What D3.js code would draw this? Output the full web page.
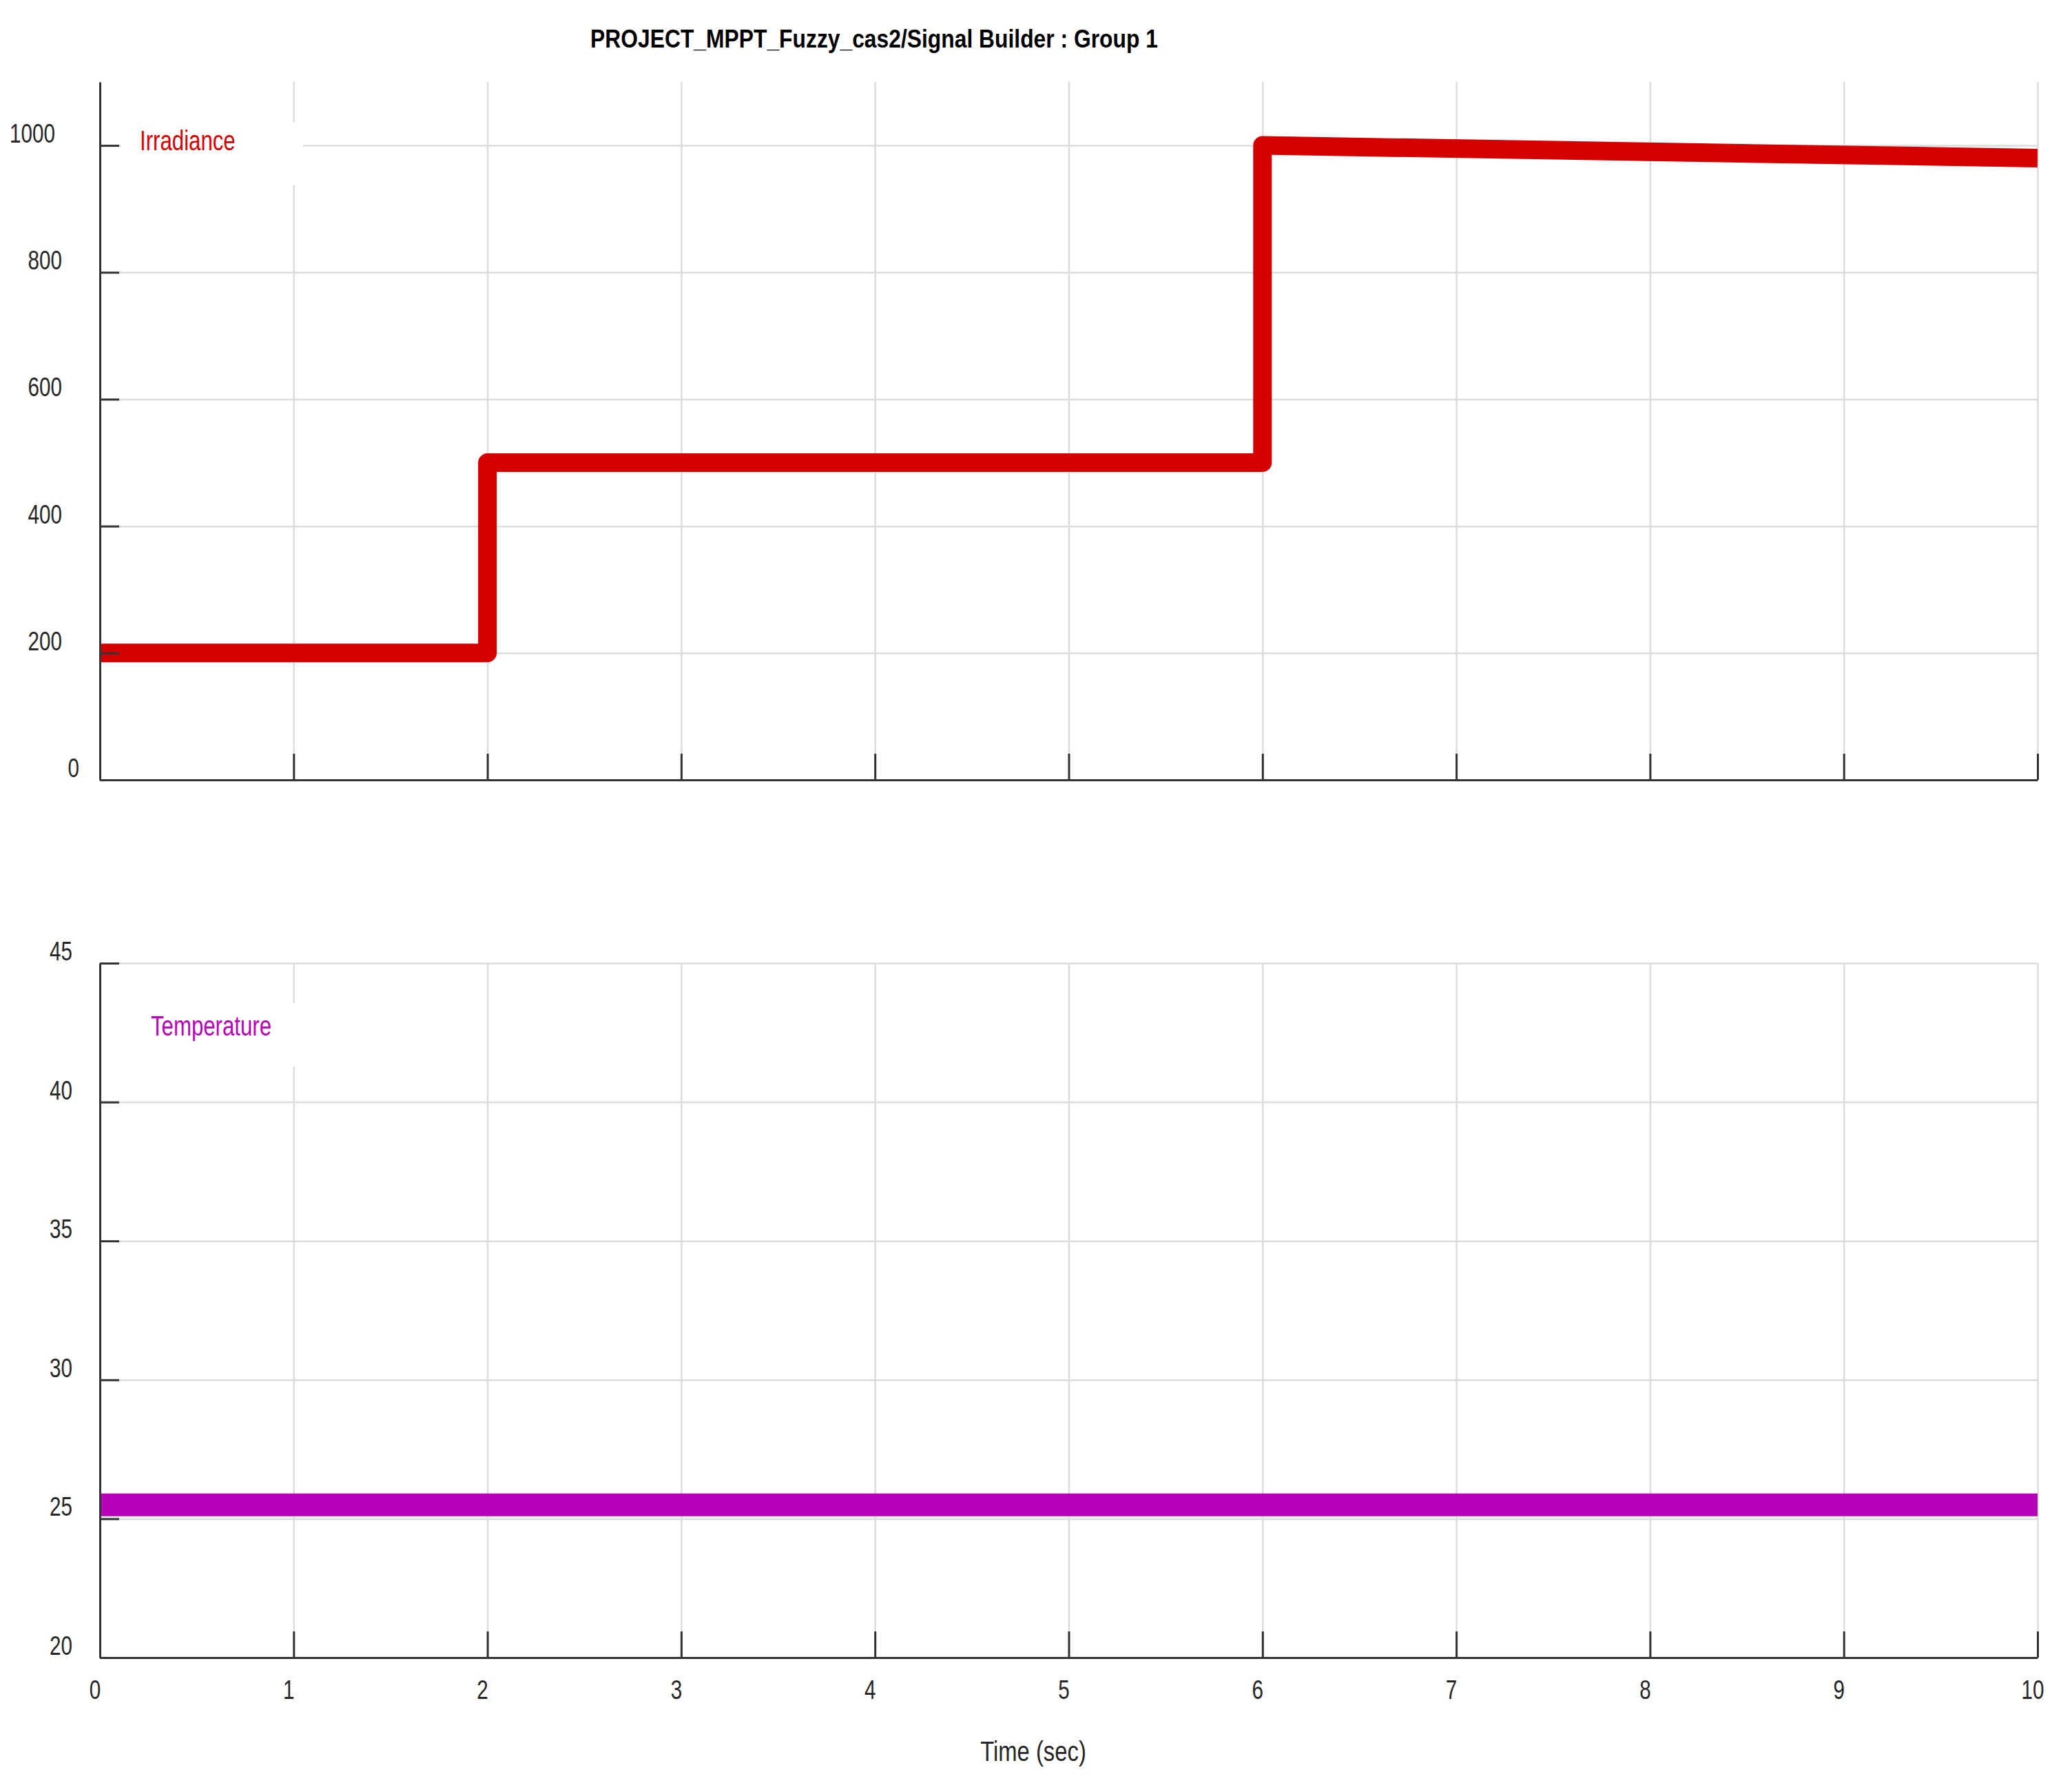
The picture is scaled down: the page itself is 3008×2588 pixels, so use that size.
<!DOCTYPE html>
<html>
<head>
<meta charset="utf-8">
<script src="https://cdn.jsdelivr.net/npm/d3@7/dist/d3.min.js"></script>
<style>
  body { margin: 0; background: #fff; }
  text { font-family: "Liberation Sans", Arial, sans-serif; }
</style>
</head>
<body>
<svg id="chart"></svg>
<script>
// data
const timeTicks = [0, 1, 2, 3, 4, 5, 6, 7, 8, 9, 10];
const irrTime = [0, 2, 2, 6, 6, 10];
const irrValue = [200, 200, 500, 500, 1000, 980];
const tempTime = [0, 10];
const tempValue = [25.5, 25.5];
const irrTicks = [0, 200, 400, 600, 800, 1000];
const tempTicks = [20, 25, 30, 35, 40, 45];

const W = 3008, H = 2588;
const svg = d3.select('#chart').attr('width', W).attr('height', H);

const left = 145, right = 2958;
const x = d3.scaleLinear().domain([0, 10]).range([left, right]);

const gridColor = '#dcdcdc';
const axisColor = '#333';
const narrow = 0.78; // no narrow font installed, squeeze instead

// text placed with a horizontal squeeze
function label(sel, tx, ty, sx) {
  return sel.append('text')
    .attr('transform', `translate(${tx}, ${ty}) scale(${sx || narrow}, 1)`);
}

const panels = [
  { name: 'Irradiance', color: '#d40000', width: 27, top: 119, bottom: 1132,
    domain: [0, 1100], ticks: irrTicks, tx: irrTime, ty: irrValue, textDx: 58, textDy: 99 },
  { name: 'Temperature', color: '#b800b8', width: 33, top: 1398, bottom: 2406,
    domain: [20, 45], ticks: tempTicks, tx: tempTime, ty: tempValue, textDx: 74, textDy: 105 }
];

// label right edge by string length (matlab puts them a bit oddly)
const labelEnd = { 1: -30, 2: -40, 3: -55, 4: -65 };

panels.forEach((p, pi) => {
  const y = d3.scaleLinear().domain(p.domain).range([p.bottom, p.top]);
  const g = svg.append('g');

  // grid
  g.append('g')
    .attr('transform', `translate(0, ${p.bottom})`)
    .call(d3.axisBottom(x).tickValues(timeTicks).tickSize(-(p.bottom - p.top)).tickFormat(''))
    .call(s => s.select('.domain').remove())
    .call(s => s.selectAll('line').attr('stroke', gridColor).attr('stroke-width', 2.5));

  g.append('g')
    .attr('transform', `translate(${left}, 0)`)
    .call(d3.axisLeft(y).tickValues(p.ticks).tickSize(-(right - left)).tickFormat(''))
    .call(s => s.select('.domain').remove())
    .call(s => s.selectAll('line').attr('stroke', gridColor).attr('stroke-width', 2.5));

  // white box behind the signal name
  g.append('rect')
    .attr('x', left + 30).attr('y', p.top + 58)
    .attr('width', 265).attr('height', 92)
    .attr('fill', '#fff');

  label(g, left + p.textDx, p.top + p.textDy)
    .attr('fill', p.color)
    .attr('font-size', 40)
    .text(p.name);

  // signal line
  const clipId = 'clip' + pi;
  svg.append('clipPath').attr('id', clipId)
    .append('rect')
    .attr('x', left).attr('y', p.top - 30)
    .attr('width', right - left).attr('height', p.bottom - p.top + 60);

  const pts = p.tx.map((t, i) => [t, p.ty[i]]);
  g.append('path')
    .datum(pts)
    .attr('clip-path', `url(#${clipId})`)
    .attr('fill', 'none')
    .attr('stroke', p.color)
    .attr('stroke-width', p.width)
    .attr('stroke-linejoin', 'round')
    .attr('stroke-linecap', 'butt')
    .attr('d', d3.line().x(d => x(d[0])).y(d => y(d[1])));

  // axes, ticks pointing in
  g.append('g')
    .attr('transform', `translate(${left}, 0)`)
    .call(d3.axisLeft(y).tickValues(p.ticks).tickSize(-28).tickSizeOuter(0).tickFormat(''))
    .call(s => s.selectAll('line, path').attr('stroke', axisColor).attr('stroke-width', 3));

  g.append('g')
    .attr('transform', `translate(0, ${p.bottom})`)
    .call(d3.axisBottom(x).tickValues(timeTicks).tickSize(-38).tickSizeOuter(0).tickFormat(''))
    .call(s => s.selectAll('line, path').attr('stroke', axisColor).attr('stroke-width', 3));

  // y tick labels
  p.ticks.forEach(d => {
    label(g, left + labelEnd[String(d).length], y(d) - 4)
      .attr('text-anchor', 'end')
      .attr('font-size', 38)
      .attr('fill', '#262626')
      .text(d);
  });
});

// x tick labels under the bottom panel
timeTicks.forEach(d => {
  label(svg, x(d) - 7, 2466)
    .attr('text-anchor', 'middle')
    .attr('font-size', 38)
    .attr('fill', '#262626')
    .text(d);
});

label(svg, 1500, 2556, 0.82)
  .attr('text-anchor', 'middle')
  .attr('font-size', 40)
  .attr('fill', '#262626')
  .text('Time (sec)');

label(svg, 1269, 69, 0.86)
  .attr('text-anchor', 'middle')
  .attr('font-size', 37)
  .attr('font-weight', 'bold')
  .attr('fill', '#000')
  .text('PROJECT_MPPT_Fuzzy_cas2/Signal Builder : Group 1');
</script>
</body>
</html>
